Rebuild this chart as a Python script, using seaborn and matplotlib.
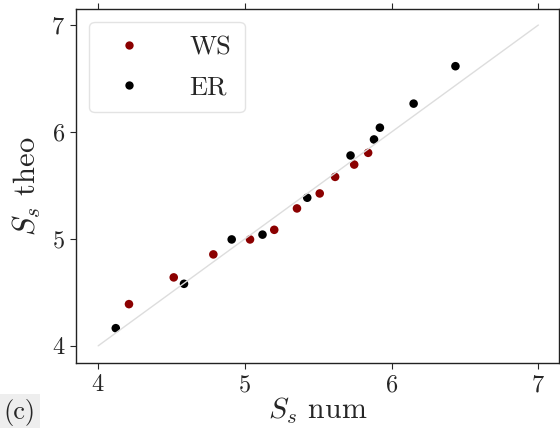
import pandas as pd
import matplotlib
matplotlib.use('Agg')
import matplotlib.pyplot as plt
import seaborn as sns

# valores
ws_num = [4.21, 4.515, 4.785, 5.035, 5.20, 5.355, 5.51, 5.615, 5.745, 5.84]
ws_theo = [4.39, 4.64, 4.855, 4.995, 5.085, 5.285, 5.425, 5.58, 5.695, 5.805]
er_num = [4.12, 4.585, 4.91, 5.12, 5.425, 5.72, 5.88, 5.92, 6.15, 6.435]
er_theo = [4.165, 4.58, 4.995, 5.04, 5.385, 5.78, 5.93, 6.04, 6.265, 6.615]
diag = [4, 7]
ticks = [4, 5, 6, 7]

df = pd.DataFrame({
    'num': ws_num + er_num,
    'theo': ws_theo + er_theo,
    'rede': ['WS'] * len(ws_num) + ['ER'] * len(er_num),
})

sns.set_style('ticks')
plt.rcParams['font.family'] = 'serif'
plt.rcParams['font.serif'] = ['cmr10', 'DejaVu Serif']
plt.rcParams['mathtext.fontset'] = 'cm'
plt.rcParams['axes.formatter.use_mathtext'] = True

fig = plt.figure(figsize=(5.6, 4.28), dpi=100)
ax = fig.add_axes([0.136, 0.152, 0.862, 0.827])

sns.scatterplot(data=df, x='num', y='theo', hue='rede',
                palette={'WS': '#8b0000', 'ER': 'black'},
                s=38, linewidth=0, ax=ax, zorder=2)
ax.plot(diag, diag, color='#dddddd', lw=1, zorder=3)

ax.set_xlim(3.85, 7.14)
ax.set_ylim(3.84, 7.15)
ax.set_xticks(ticks)
ax.set_yticks(ticks)
ax.tick_params(labelsize=17.5, length=4.5, top=True, direction='out')
ax.set_xlabel(r'$S_s$ num', fontsize=21.5, labelpad=0)
ax.set_ylabel(r'$S_s$ theo', fontsize=22, labelpad=6)
for sp in ax.spines.values():
    sp.set_color('#222222')
    sp.set_linewidth(1)

leg = ax.legend(loc='upper left', fontsize=19, frameon=True, fancybox=True,
                handletextpad=1.3, borderpad=0.5, labelspacing=0.62,
                bbox_to_anchor=(0.0, 1.0), borderaxespad=0.5)
leg.get_frame().set_edgecolor('#dddddd')
for h in leg.legend_handles:
    h.set_markersize(6)

fig.text(0.006, 0.022, '(c)', fontsize=19,
         bbox=dict(facecolor='#eeeeee', edgecolor='none', pad=3))

fig.savefig('out.png', dpi=100)
